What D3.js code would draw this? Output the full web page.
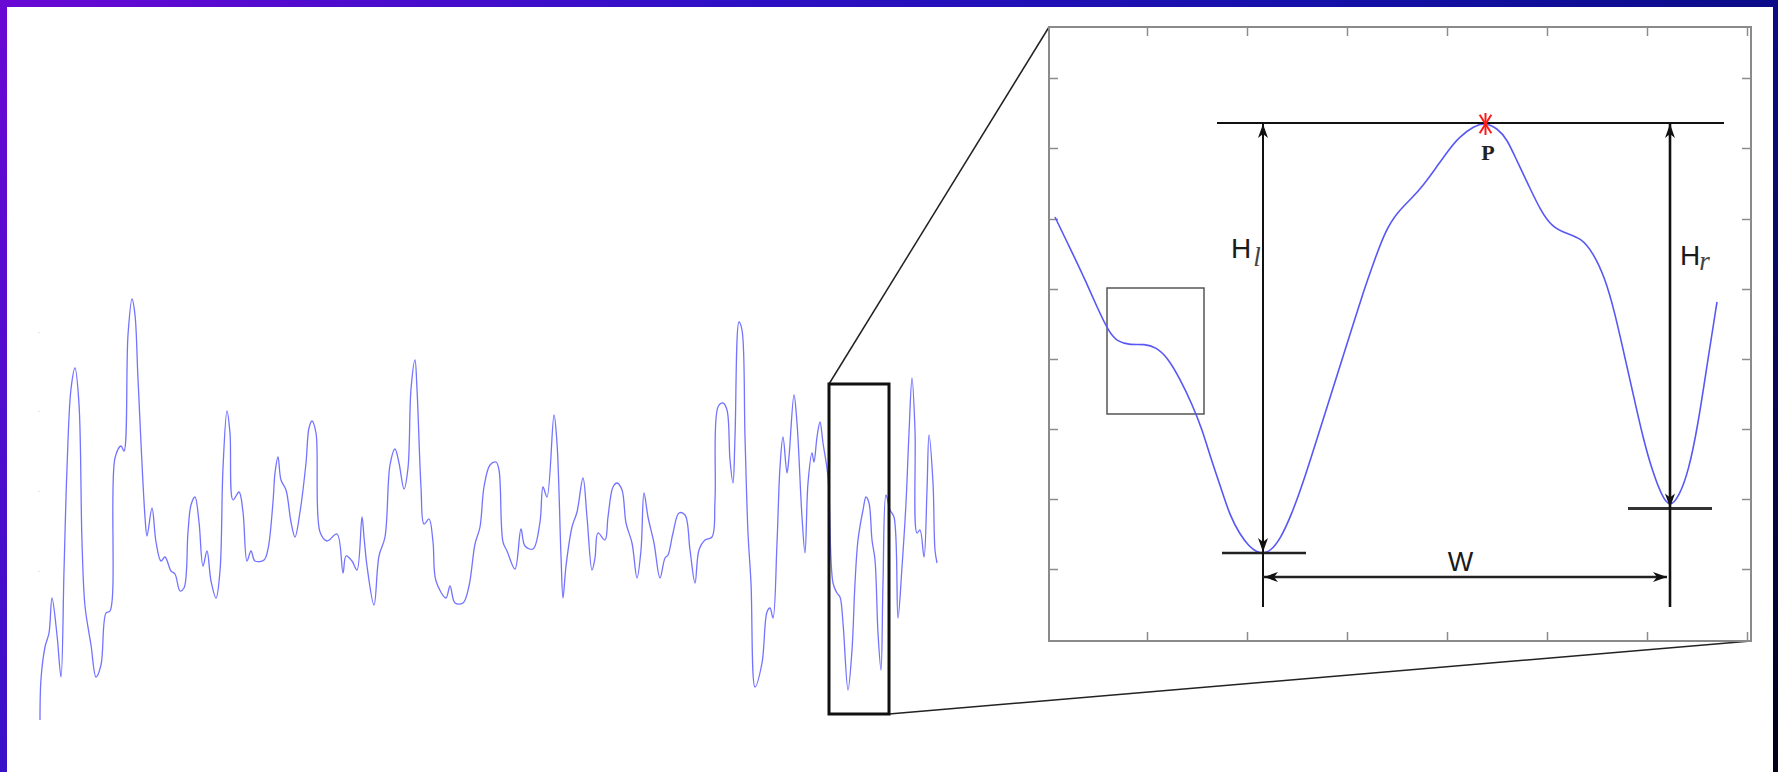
<!DOCTYPE html>
<html><head><meta charset="utf-8">
<script src="https://cdn.jsdelivr.net/npm/d3@7"></script>
<style>html,body{margin:0;padding:0;background:#fff;overflow:hidden}</style>
</head><body>
<svg id="chart" width="1778" height="772"></svg>
<script>
// ---- data ----
const mainSignal = [[0,0],[1,41],[5,73],[9,87],[12,122],[17,85],[21,43],[24,149],[27,252],[31,331],[35,352],[39,316],[42,178],[45,114],[51,75],[56,43],[61,55],[66,107],[70,109],[75,262],[81,274],[84,269],[88,385],[92,421],[95,405],[98,341],[105,203],[107,184],[112,212],[116,178],[121,159],[125,163],[131,149],[135,146],[140,129],[144,132],[148,188],[151,215],[155,223],[159,198],[163,154],[167,169],[171,139],[176,122],[180,149],[183,252],[187,309],[190,287],[193,220],[199,228],[203,208],[207,159],[211,169],[215,159],[224,160],[228,171],[233,218],[235,247],[238,263],[241,240],[246,230],[251,198],[255,183],[260,208],[266,257],[269,292],[272,299],[276,287],[280,188],[287,179],[297,186],[303,147],[306,164],[312,159],[317,150],[322,203],[324,183],[327,154],[334,115],[339,164],[345,183],[350,255],[355,271],[359,257],[364,231],[368,252],[371,331],[375,360],[377,331],[381,233],[384,196],[389,201],[393,178],[396,139],[406,122],[410,134],[415,117],[423,117],[429,134],[435,176],[440,193],[444,233],[450,255],[456,258],[459,250],[463,178],[467,169],[475,151],[481,191],[485,174],[493,171],[500,198],[503,233],[507,223],[514,305],[517,277],[521,164],[523,122],[526,154],[532,193],[537,208],[543,242],[547,203],[552,150],[555,162],[558,187],[565,180],[568,203],[573,233],[577,237],[582,230],[586,197],[592,177],[597,142],[601,170],[604,227],[608,203],[614,177],[620,142],[625,162],[628,165],[633,187],[639,207],[645,205],[650,170],[655,137],[659,170],[665,180],[672,183],[675,220],[678,313],[683,317],[687,310],[690,260],[693,237],[695,283],[699,398],[702,390],[705,283],[708,187],[711,137],[715,33],[722,57],[727,108],[730,112],[733,102],[737,177],[740,253],[743,283],[747,247],[749,263],[754,325],[757,297],[762,203],[765,167],[768,237],[772,267],[774,258],[777,283],[780,298],[783,277],[788,243],[793,137],[797,127],[800,123],[803,97],[808,30],[812,70],[815,137],[818,180],[823,210],[826,223],[829,217],[832,180],[835,160],[838,87],[841,50],[843,137],[846,225],[850,210],[854,203],[858,102],[862,153],[866,217],[869,287],[872,342],[875,290],[877,187],[880,190],[884,163],[887,230],[889,285],[893,237],[895,170],[897,157]];
const mainTickValues = [149, 229, 309, 388];
const zoomWindow = [[789, 6], [849, 336]];

const insetSignal = [[6,424],[19,397],[33.5,367],[48,334],[60,308.5],[69,299],[81,296],[95.5,297],[107,294],[119,283],[131,262],[143,237],[153,212],[162,182],[172,153],[181,125],[191,106.5],[200.5,94],[208,89],[214,87.5],[221,89.5],[231.5,102],[243,127.5],[255,161],[267,199],[279,237],[291,275],[303,313],[315,351],[324.5,378],[336,409.5],[348,428.5],[363,443],[374.5,456],[386.5,472.5],[398.5,489.5],[410,504],[425,515],[436.5,518.5],[448.5,512.5],[458,502],[467.5,481],[479.5,456],[491.5,430.5],[503.5,413.5],[517.5,407.5],[532,403],[544,388.5],[556,363],[565.5,329.5],[575,287.5],[584.5,245.5],[594,203],[603.5,169.5],[613,144.5],[621,133.5],[630,144.5],[639.5,169.5],[649,216],[658.5,279],[668,339]];
const insetXTicks = [98, 198, 298, 398, 498, 598, 698];
const insetYTicks = [72, 142, 212, 282, 352, 422, 493, 563];
const peakPoint = [436.5, 518];
const leftValley = [214, 88];
const rightValley = [621, 132.5];
const detailBox = [[58, 227], [155, 353]];
const peakLabel = "P", widthLabel = "W";
const leftHeightLabel = ["H", "l"], rightHeightLabel = ["H", "r"];

// ---- drawing ----
const svg = d3.select("#chart");
const W = 1778, H = 772;

// frame
const defs = svg.append("defs");
function grad(id, x2, y2, stops) {
  const g = defs.append("linearGradient").attr("id", id)
    .attr("x1", 0).attr("y1", 0).attr("x2", x2).attr("y2", y2);
  stops.forEach(s => g.append("stop").attr("offset", s[0]).attr("stop-color", s[1]));
}
grad("gTop", 1, 0, [[0, "#6a08d4"], [0.4, "#3010c6"], [0.75, "#1410a8"], [1, "#0c0c88"]]);
grad("gLeft", 0, 1, [[0, "#6a08d4"], [1, "#3a10c8"]]);
grad("gRight", 0, 1, [[0, "#0c0c88"], [0.6, "#06064a"], [1, "#000018"]]);
svg.append("rect").attr("x", 0).attr("y", 0).attr("width", W).attr("height", 7).attr("fill", "url(#gTop)");
svg.append("rect").attr("x", 0).attr("y", 0).attr("width", 7).attr("height", H).attr("fill", "url(#gLeft)");
svg.append("rect").attr("x", 1773).attr("y", 0).attr("width", 5).attr("height", H).attr("fill", "url(#gRight)");

// main signal
const mx = d3.scaleLinear().domain([0, 897]).range([40, 937]);
const my = d3.scaleLinear().domain([0, 700]).range([720, 20]);

const faint = svg.append("g").attr("transform", `translate(${mx(0)},0)`)
  .call(d3.axisLeft(my).tickValues(mainTickValues).tickSize(2).tickFormat(""));
faint.select(".domain").remove();
faint.selectAll("line").attr("stroke", "#e4e4e4");

const mline = d3.line().x(d => mx(d[0])).y(d => my(d[1])).curve(d3.curveCatmullRom.alpha(0.5));
svg.append("path").datum(mainSignal).attr("d", mline)
  .attr("fill", "none").attr("stroke", "#5a5aff").attr("stroke-width", 1.3).attr("stroke-opacity", 0.85);

// inset scales
const ix = d3.scaleLinear().domain([0, 702]).range([1049, 1751]);
const iy = d3.scaleLinear().domain([0, 614]).range([641, 27]);

// zoom window and connectors
const zx0 = mx(zoomWindow[0][0]), zx1 = mx(zoomWindow[1][0]);
const zyTop = my(zoomWindow[1][1]), zyBot = my(zoomWindow[0][1]);
svg.append("line").attr("x1", zx0).attr("y1", zyTop).attr("x2", ix(0)).attr("y2", iy(614))
  .attr("stroke", "#222").attr("stroke-width", 1.5);
svg.append("line").attr("x1", zx1).attr("y1", zyBot).attr("x2", ix(702)).attr("y2", iy(0))
  .attr("stroke", "#222").attr("stroke-width", 1.5);
svg.append("rect").attr("x", zx0).attr("y", zyTop).attr("width", zx1 - zx0).attr("height", zyBot - zyTop)
  .attr("fill", "none").attr("stroke", "#111").attr("stroke-width", 3);

// inset panel
const inset = svg.append("g");
inset.append("rect").attr("x", ix(0)).attr("y", iy(614)).attr("width", ix(702) - ix(0)).attr("height", iy(0) - iy(614))
  .attr("fill", "#fff").attr("stroke", "#8a8a8a").attr("stroke-width", 2);
function styleAxis(g) {
  g.select(".domain").remove();
  g.selectAll("line").attr("stroke", "#8c8c8c").attr("stroke-width", 1.5);
}
inset.append("g").attr("transform", `translate(0,${iy(0)})`)
  .call(d3.axisBottom(ix).tickValues(insetXTicks).tickSize(-9).tickFormat("")).call(styleAxis);
inset.append("g").attr("transform", `translate(0,${iy(614)})`)
  .call(d3.axisTop(ix).tickValues(insetXTicks).tickSize(-9).tickFormat("")).call(styleAxis);
inset.append("g").attr("transform", `translate(${ix(0)},0)`)
  .call(d3.axisLeft(iy).tickValues(insetYTicks).tickSize(-9).tickFormat("")).call(styleAxis);
inset.append("g").attr("transform", `translate(${ix(702)},0)`)
  .call(d3.axisRight(iy).tickValues(insetYTicks).tickSize(-9).tickFormat("")).call(styleAxis);

// detail box
inset.append("rect").attr("x", ix(detailBox[0][0])).attr("y", iy(detailBox[1][1]))
  .attr("width", ix(detailBox[1][0]) - ix(detailBox[0][0])).attr("height", iy(detailBox[0][1]) - iy(detailBox[1][1]))
  .attr("fill", "none").attr("stroke", "#555").attr("stroke-width", 1.5);

// inset curve
const iline = d3.line().x(d => ix(d[0])).y(d => iy(d[1])).curve(d3.curveBasis);
inset.append("path").datum(insetSignal).attr("d", iline)
  .attr("fill", "none").attr("stroke", "#5858f4").attr("stroke-width", 1.6);

// annotations
const ann = svg.append("g");
const topY = iy(peakPoint[1]);
const lx = ix(leftValley[0]), rx = ix(rightValley[0]);
const lY = iy(leftValley[1]), rY = iy(rightValley[1]);
const stemBottom = iy(34);
const wY = iy(64);
function hline(x1, x2, y, w, c) {
  ann.append("line").attr("x1", x1).attr("x2", x2).attr("y1", y).attr("y2", y).attr("stroke", c).attr("stroke-width", w);
}
function vline(x, y1, y2, w, c) {
  ann.append("line").attr("x1", x).attr("x2", x).attr("y1", y1).attr("y2", y2).attr("stroke", c).attr("stroke-width", w);
}
function head(x, y, angle) {
  ann.append("path").attr("d", "M0,0 L-14,-5 L-10,0 L-14,5 Z")
    .attr("transform", `translate(${x},${y}) rotate(${angle})`).attr("fill", "#111");
}
hline(ix(168), ix(675), topY, 2.2, "#111");
hline(ix(leftValley[0] - 41), ix(leftValley[0] + 43), lY, 2.6, "#222");
hline(ix(rightValley[0] - 42), ix(rightValley[0] + 42), rY, 2.8, "#333");
vline(lx, topY, stemBottom, 2, "#111");
vline(rx, topY, stemBottom, 2.6, "#111");
head(lx, topY + 1, -90);
head(lx, lY - 1, 90);
head(rx, topY + 1, -90);
head(rx, rY - 1, 90);
hline(lx, rx - 3, wY, 2.4, "#222");
head(lx + 1, wY, 180);
head(rx - 3, wY, 0);

// peak marker
const px = ix(peakPoint[0]), py = iy(peakPoint[1]) + 1;
const star = ann.append("g").attr("transform", `translate(${px},${py})`);
[90, 58, 122].forEach(a => {
  const r = 11, t = a * Math.PI / 180;
  star.append("line").attr("x1", -r * Math.cos(t)).attr("y1", -r * Math.sin(t))
    .attr("x2", r * Math.cos(t)).attr("y2", r * Math.sin(t))
    .attr("stroke", "#ff1a1a").attr("stroke-width", 2);
});

// labels
ann.append("text").attr("x", px + 2.5).attr("y", topY + 37).attr("text-anchor", "middle")
  .attr("font-family", "Liberation Serif, serif").attr("font-weight", "bold").attr("font-size", 22)
  .attr("fill", "#222").text(peakLabel);
ann.append("text").attr("x", (lx + rx) / 2 - 6).attr("y", wY - 6).attr("text-anchor", "middle")
  .attr("font-family", "Liberation Sans, Arial, sans-serif").attr("font-size", 27).attr("fill", "#1a1a1a").text(widthLabel);
function hLabel(x, y, parts, dx, dy) {
  const t = ann.append("text").attr("x", x).attr("y", y).attr("fill", "#1a1a1a");
  t.append("tspan").attr("font-family", "Liberation Sans, Arial, sans-serif").attr("font-size", 28).text(parts[0]);
  t.append("tspan").attr("font-family", "Liberation Serif, serif").attr("font-style", "italic")
    .attr("fill", "#444").attr("font-size", 27).attr("dx", dx).attr("dy", dy).text(parts[1]);
}
hLabel(lx - 32, 258, leftHeightLabel, 2, 8);
hLabel(rx + 10, 265, rightHeightLabel, -1, 5);
</script>
</body></html>
